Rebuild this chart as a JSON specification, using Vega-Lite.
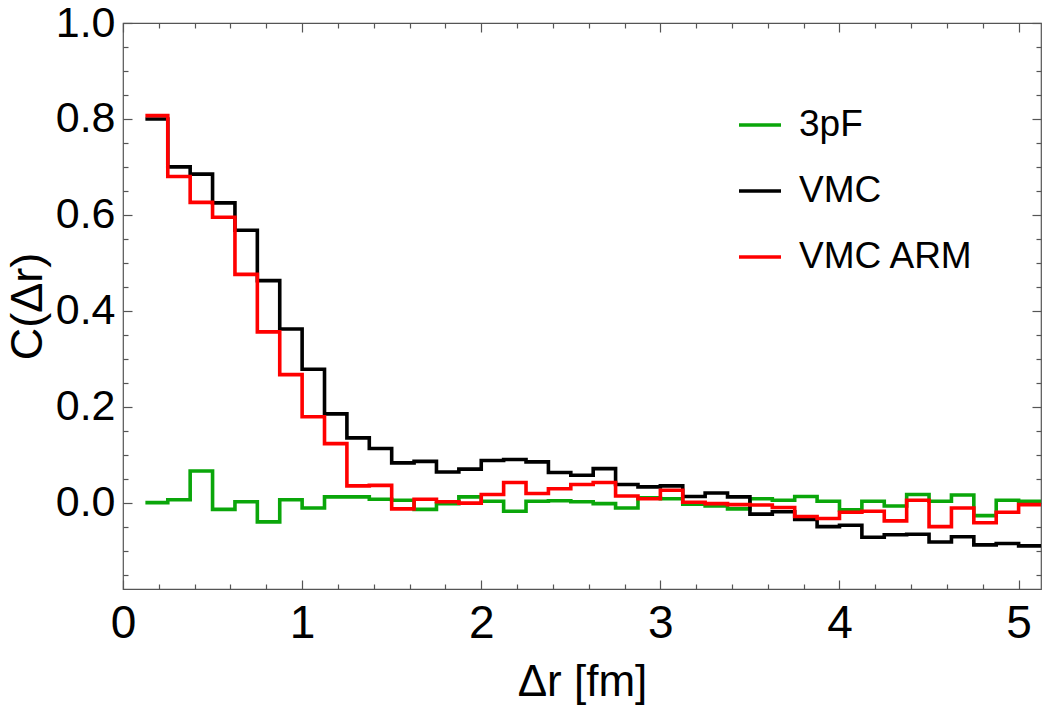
{
  "$schema": "https://vega.github.io/schema/vega-lite/v6.json",
  "autosize": "none",
  "width": 918,
  "height": 566,
  "padding": {"left": 123, "top": 23, "right": 1, "bottom": 116},
  "background": "white",
  "config": {
    "view": {"stroke": "#555", "strokeWidth": 1.2},
    "font": "Liberation Sans",
    "axis": {"grid": false, "domain": false, "labelFont": "Liberation Sans", "titleFont": "Liberation Sans", "labelColor": "#000", "titleColor": "#000", "titleFontWeight": "normal", "tickColor": "#555", "tickWidth": 1.2}
  },
  "data": {"values": [
    {"x":0.125,"y":0.000,"s":"3pF"},{"x":0.25,"y":0.006,"s":"3pF"},{"x":0.375,"y":0.066,"s":"3pF"},{"x":0.5,"y":-0.014,"s":"3pF"},{"x":0.625,"y":0.002,"s":"3pF"},{"x":0.75,"y":-0.040,"s":"3pF"},{"x":0.875,"y":0.006,"s":"3pF"},{"x":1.0,"y":-0.011,"s":"3pF"},{"x":1.125,"y":0.012,"s":"3pF"},{"x":1.25,"y":0.012,"s":"3pF"},
    {"x":1.375,"y":0.007,"s":"3pF"},{"x":1.5,"y":0.005,"s":"3pF"},{"x":1.625,"y":-0.014,"s":"3pF"},{"x":1.75,"y":-0.002,"s":"3pF"},{"x":1.875,"y":0.012,"s":"3pF"},{"x":2.0,"y":0.003,"s":"3pF"},{"x":2.125,"y":-0.018,"s":"3pF"},{"x":2.25,"y":0.003,"s":"3pF"},{"x":2.375,"y":0.004,"s":"3pF"},{"x":2.5,"y":0.002,"s":"3pF"},
    {"x":2.625,"y":-0.002,"s":"3pF"},{"x":2.75,"y":-0.011,"s":"3pF"},{"x":2.875,"y":0.010,"s":"3pF"},{"x":3.0,"y":0.008,"s":"3pF"},{"x":3.125,"y":-0.003,"s":"3pF"},{"x":3.25,"y":-0.007,"s":"3pF"},{"x":3.375,"y":-0.013,"s":"3pF"},{"x":3.5,"y":0.008,"s":"3pF"},{"x":3.625,"y":0.005,"s":"3pF"},{"x":3.75,"y":0.013,"s":"3pF"},
    {"x":3.875,"y":0.003,"s":"3pF"},{"x":4.0,"y":-0.015,"s":"3pF"},{"x":4.125,"y":0.003,"s":"3pF"},{"x":4.25,"y":-0.007,"s":"3pF"},{"x":4.375,"y":0.017,"s":"3pF"},{"x":4.5,"y":0.003,"s":"3pF"},{"x":4.625,"y":0.016,"s":"3pF"},{"x":4.75,"y":-0.027,"s":"3pF"},{"x":4.875,"y":0.005,"s":"3pF"},{"x":5.0,"y":0.003,"s":"3pF"},{"x":5.125,"y":0.003,"s":"3pF"},
    {"x":0.125,"y":0.800,"s":"VMC"},{"x":0.25,"y":0.700,"s":"VMC"},{"x":0.375,"y":0.685,"s":"VMC"},{"x":0.5,"y":0.625,"s":"VMC"},{"x":0.625,"y":0.568,"s":"VMC"},{"x":0.75,"y":0.463,"s":"VMC"},{"x":0.875,"y":0.362,"s":"VMC"},{"x":1.0,"y":0.278,"s":"VMC"},{"x":1.125,"y":0.185,"s":"VMC"},{"x":1.25,"y":0.135,"s":"VMC"},
    {"x":1.375,"y":0.113,"s":"VMC"},{"x":1.5,"y":0.083,"s":"VMC"},{"x":1.625,"y":0.086,"s":"VMC"},{"x":1.75,"y":0.064,"s":"VMC"},{"x":1.875,"y":0.070,"s":"VMC"},{"x":2.0,"y":0.088,"s":"VMC"},{"x":2.125,"y":0.090,"s":"VMC"},{"x":2.25,"y":0.085,"s":"VMC"},{"x":2.375,"y":0.063,"s":"VMC"},{"x":2.5,"y":0.057,"s":"VMC"},
    {"x":2.625,"y":0.071,"s":"VMC"},{"x":2.75,"y":0.038,"s":"VMC"},{"x":2.875,"y":0.033,"s":"VMC"},{"x":3.0,"y":0.035,"s":"VMC"},{"x":3.125,"y":0.013,"s":"VMC"},{"x":3.25,"y":0.020,"s":"VMC"},{"x":3.375,"y":0.012,"s":"VMC"},{"x":3.5,"y":-0.024,"s":"VMC"},{"x":3.625,"y":-0.019,"s":"VMC"},{"x":3.75,"y":-0.035,"s":"VMC"},
    {"x":3.875,"y":-0.050,"s":"VMC"},{"x":4.0,"y":-0.047,"s":"VMC"},{"x":4.125,"y":-0.072,"s":"VMC"},{"x":4.25,"y":-0.067,"s":"VMC"},{"x":4.375,"y":-0.066,"s":"VMC"},{"x":4.5,"y":-0.082,"s":"VMC"},{"x":4.625,"y":-0.071,"s":"VMC"},{"x":4.75,"y":-0.088,"s":"VMC"},{"x":4.875,"y":-0.085,"s":"VMC"},{"x":5.0,"y":-0.090,"s":"VMC"},{"x":5.125,"y":-0.090,"s":"VMC"},
    {"x":0.125,"y":0.807,"s":"VMC ARM"},{"x":0.25,"y":0.680,"s":"VMC ARM"},{"x":0.375,"y":0.626,"s":"VMC ARM"},{"x":0.5,"y":0.595,"s":"VMC ARM"},{"x":0.625,"y":0.476,"s":"VMC ARM"},{"x":0.75,"y":0.356,"s":"VMC ARM"},{"x":0.875,"y":0.267,"s":"VMC ARM"},{"x":1.0,"y":0.179,"s":"VMC ARM"},{"x":1.125,"y":0.123,"s":"VMC ARM"},{"x":1.25,"y":0.035,"s":"VMC ARM"},
    {"x":1.375,"y":0.036,"s":"VMC ARM"},{"x":1.5,"y":-0.013,"s":"VMC ARM"},{"x":1.625,"y":0.007,"s":"VMC ARM"},{"x":1.75,"y":0.002,"s":"VMC ARM"},{"x":1.875,"y":-0.001,"s":"VMC ARM"},{"x":2.0,"y":0.017,"s":"VMC ARM"},{"x":2.125,"y":0.042,"s":"VMC ARM"},{"x":2.25,"y":0.019,"s":"VMC ARM"},{"x":2.375,"y":0.029,"s":"VMC ARM"},{"x":2.5,"y":0.038,"s":"VMC ARM"},
    {"x":2.625,"y":0.042,"s":"VMC ARM"},{"x":2.75,"y":0.014,"s":"VMC ARM"},{"x":2.875,"y":0.008,"s":"VMC ARM"},{"x":3.0,"y":0.026,"s":"VMC ARM"},{"x":3.125,"y":0.001,"s":"VMC ARM"},{"x":3.25,"y":-0.002,"s":"VMC ARM"},{"x":3.375,"y":-0.004,"s":"VMC ARM"},{"x":3.5,"y":-0.005,"s":"VMC ARM"},{"x":3.625,"y":-0.010,"s":"VMC ARM"},{"x":3.75,"y":-0.029,"s":"VMC ARM"},
    {"x":3.875,"y":-0.033,"s":"VMC ARM"},{"x":4.0,"y":-0.020,"s":"VMC ARM"},{"x":4.125,"y":-0.018,"s":"VMC ARM"},{"x":4.25,"y":-0.038,"s":"VMC ARM"},{"x":4.375,"y":0.005,"s":"VMC ARM"},{"x":4.5,"y":-0.050,"s":"VMC ARM"},{"x":4.625,"y":-0.011,"s":"VMC ARM"},{"x":4.75,"y":-0.042,"s":"VMC ARM"},{"x":4.875,"y":-0.020,"s":"VMC ARM"},{"x":5.0,"y":-0.004,"s":"VMC ARM"},{"x":5.125,"y":-0.004,"s":"VMC ARM"}
  ]},
  "resolve": {"axis": {"x": "independent", "y": "independent"}},
  "layer": [
    {
      "mark": {"type": "line", "interpolate": "step-after", "strokeWidth": 3.6, "clip": true},
      "encoding": {
        "x": {"field": "x", "type": "quantitative", "scale": {"domain": [0, 5.125], "nice": false, "zero": false},
          "axis": {"orient": "bottom", "values": [0,1,2,3,4,5], "format": "d", "ticks": false, "labelFontSize": 46, "labelPadding": 12, "labelFlush": false, "title": "Δr [fm]", "titleFontSize": 44, "titlePadding": 14}},
        "y": {"field": "y", "type": "quantitative", "scale": {"domain": [-0.18, 1.0], "nice": false, "zero": false},
          "axis": {"orient": "left", "values": [0,0.2,0.4,0.6,0.8,1.0], "format": ".1f", "ticks": false, "labelFontSize": 43, "labelPadding": 8, "labelFlush": false, "title": "C(Δr)", "titleFontSize": 45, "titlePadding": 5}},
        "color": {"field": "s", "type": "nominal", "sort": ["3pF", "VMC", "VMC ARM"],
          "scale": {"domain": ["3pF", "VMC", "VMC ARM"], "range": ["#0aa60a", "#000000", "#ff0000"]},
          "legend": {"orient": "none", "legendX": 614, "legendY": 79, "title": null, "symbolType": "stroke", "symbolSize": 1764, "symbolStrokeWidth": 3.6, "labelFontSize": 37, "labelFont": "Liberation Sans", "labelColor": "#000", "labelOffset": 16, "rowPadding": 25, "padding": 0, "labelLimit": 400}}
      }
    },
    {
      "mark": {"type": "point", "opacity": 0},
      "encoding": {
        "x": {"field": "x", "type": "quantitative", "axis": {"orient": "bottom", "values": [0,1,2,3,4,5], "labels": false, "tickSize": -9, "title": null}},
        "y": {"field": "y", "type": "quantitative", "axis": {"orient": "left", "values": [-0.2,0,0.2,0.4,0.6,0.8,1.0], "labels": false, "tickSize": -9, "title": null}}
      }
    },
    {
      "mark": {"type": "point", "opacity": 0},
      "encoding": {
        "x": {"field": "x", "type": "quantitative", "axis": {"orient": "bottom", "values": [0.2,0.4,0.6,0.8,1.2,1.4,1.6,1.8,2.2,2.4,2.6,2.8,3.2,3.4,3.6,3.8,4.2,4.4,4.6,4.8], "labels": false, "tickSize": -5, "title": null}},
        "y": {"field": "y", "type": "quantitative", "axis": {"orient": "left", "values": [-0.15,-0.1,-0.05,0.05,0.1,0.15,0.25,0.3,0.35,0.45,0.5,0.55,0.65,0.7,0.75,0.85,0.9,0.95], "labels": false, "tickSize": -5, "title": null}}
      }
    },
    {
      "mark": {"type": "point", "opacity": 0},
      "encoding": {
        "x": {"field": "x", "type": "quantitative", "axis": {"orient": "top", "values": [0,1,2,3,4,5], "labels": false, "tickSize": -9, "title": null}},
        "y": {"field": "y", "type": "quantitative", "axis": {"orient": "right", "values": [-0.2,0,0.2,0.4,0.6,0.8,1.0], "labels": false, "tickSize": -9, "title": null}}
      }
    },
    {
      "mark": {"type": "point", "opacity": 0},
      "encoding": {
        "x": {"field": "x", "type": "quantitative", "axis": {"orient": "top", "values": [0.2,0.4,0.6,0.8,1.2,1.4,1.6,1.8,2.2,2.4,2.6,2.8,3.2,3.4,3.6,3.8,4.2,4.4,4.6,4.8], "labels": false, "tickSize": -5, "title": null}},
        "y": {"field": "y", "type": "quantitative", "axis": {"orient": "right", "values": [-0.15,-0.1,-0.05,0.05,0.1,0.15,0.25,0.3,0.35,0.45,0.5,0.55,0.65,0.7,0.75,0.85,0.9,0.95], "labels": false, "tickSize": -5, "title": null}}
      }
    }
  ]
}
